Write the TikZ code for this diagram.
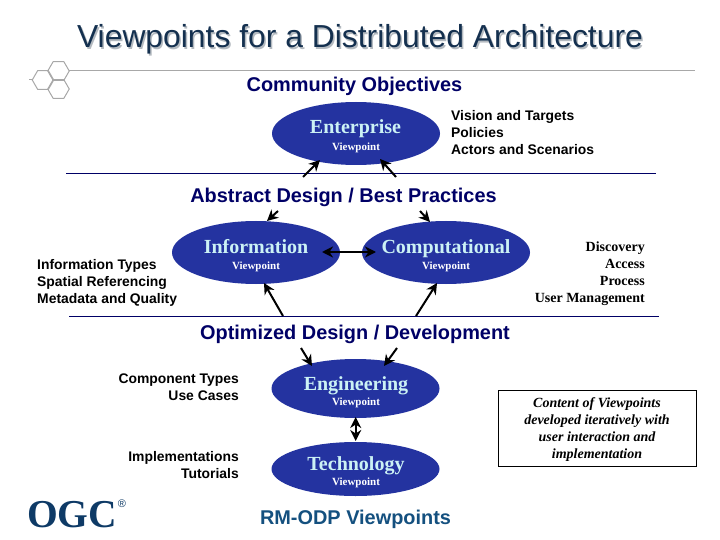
\documentclass[tikz,border=0pt]{standalone}
\usepackage{fontspec}
\setmainfont{Liberation Serif}
\newfontfamily\sansf{Liberation Sans}
\usetikzlibrary{arrows.meta,shapes.geometric,calc}
\definecolor{titleblue}{HTML}{14304F}
\definecolor{shadowgray}{HTML}{B4BAC0}
\definecolor{headnavy}{HTML}{000066}
\definecolor{ellblue}{HTML}{2433A0}
\definecolor{lightcyan}{HTML}{CCF2F5}
\definecolor{rulegray}{HTML}{A8A8A8}
\definecolor{ogcblue}{HTML}{0E3A66}
\definecolor{rmblue}{HTML}{14507F}
\tikzset{
  x=1pt,y=-1pt,
  tip/.tip={Stealth[length=11pt,width=11pt,inset=3.5pt]},
  vp/.style={ellipse,fill=ellblue,draw=none,minimum width=168pt,minimum height=63pt,inner sep=0pt},
  vname/.style={anchor=base,text=lightcyan,font=\bfseries\fontsize{20}{22}\selectfont,inner sep=0pt},
  vsub/.style={anchor=base,text=white,font=\bfseries\fontsize{11}{12}\selectfont,inner sep=0pt},
  head/.style={text=headnavy,font=\sansf\bfseries\fontsize{19.9}{22}\selectfont,inner sep=0pt},
  lsans/.style={text=black,font=\sansf\bfseries\fontsize{13.9}{17}\selectfont,inner sep=0pt},
  lserif/.style={text=black,font=\bfseries\fontsize{14}{17}\selectfont,inner sep=0pt},
  conn/.style={-tip,line width=2pt,black},
  divider/.style={line width=1pt,headnavy},
  hex/.style={regular polygon,regular polygon sides=6,minimum size=21.5pt,inner sep=0pt,draw=rulegray,line width=1pt,fill=none},
}
\begin{document}
\begin{tikzpicture}
\useasboundingbox (0,0) rectangle (720,540);
\fill[white] (0,0) rectangle (720,540);
% title
\node[text=shadowgray,font=\sansf\fontsize{31.85}{34}\selectfont,inner sep=0pt] (titleshadow) at (361.5,41) {Viewpoints for a Distributed Architecture};
\node[text=titleblue,font=\sansf\fontsize{31.85}{34}\selectfont,inner sep=0pt] (title) at (360,39.5) {Viewpoints for a Distributed Architecture};
% top rule and hexagons
\coordinate (ruleL) at (69,70.7);
\coordinate (ruleR) at (695,70.7);
\draw[rulegray,line width=1pt] (ruleL) -- (ruleR);
\node[hex] (hexa) at (58.5,71) {};
\node[hex] (hexb) at (43,80) {};
\node[hex] (hexc) at (58.5,89) {};
\coordinate (hexstub) at (29,80);
\draw[rulegray,line width=1pt] (hexb.west) -- (hexstub);
% headings
\node[head] (h1) at (354.5,86) {Community Objectives};
\node[head] (h2) at (343.5,197) {Abstract Design / Best Practices};
\node[head] (h3) at (355,334) {Optimized Design / Development};
\node[text=rmblue,font=\sansf\bfseries\fontsize{19.9}{22}\selectfont,inner sep=0pt] (h4) at (355.5,519.5) {RM-ODP Viewpoints};
% dividers
\coordinate (d1L) at (66,173.5); \coordinate (d1R) at (656,173.5);
\coordinate (d2L) at (69,316); \coordinate (d2R) at (659,316);
\draw[divider] (d1L) -- (d1R);
\draw[divider] (d2L) -- (d2R);
% ellipses
\node[vp] (ent) at (356,133.5) {};
\node[vp] (inf) at (256,252.5) {};
\node[vp] (com) at (446,252.5) {};
\node[vp,minimum height=59pt] (eng) at (355.5,388.5) {};
\node[vp,minimum height=54pt] (tec) at (355.5,469) {};
% names
\node[vname] (entn) at (355.5,134) {Enterprise};
\node[vsub]  (ents) at (356,150.5) {Viewpoint};
\node[vname] (infn) at (256,254) {Information};
\node[vsub]  (infs) at (256,269.5) {Viewpoint};
\node[vname] (comn) at (446,254) {Computational};
\node[vsub]  (coms) at (446,269.5) {Viewpoint};
\node[vname] (engn) at (356,390) {Engineering};
\node[vsub]  (engs) at (356,405) {Viewpoint};
\node[vname] (tecn) at (356,470) {Technology};
\node[vsub]  (tecs) at (356,485) {Viewpoint};
% side text
\node[lsans,align=left,anchor=west] (t1) at (451,132.5) {Vision and Targets\\Policies\\Actors and Scenarios};
\node[lsans,align=left,anchor=west] (t2) at (37,283) {Information Types\\Spatial Referencing\\Metadata and Quality};
\node[lserif,align=right,anchor=east] (t3) at (645,274) {Discovery\\Access\\Process\\User Management};
\node[lsans,align=right,anchor=east] (t4) at (239,387) {Component Types\\Use Cases};
\node[lsans,align=right,anchor=east] (t5) at (239,465) {Implementations\\Tutorials};
% note box
\node[draw=black,line width=0.8pt,fill=white,minimum width=198pt,minimum height=76pt,inner sep=0pt] (note) at (597,428) {};
\node[align=center,inner sep=0pt,font=\bfseries\itshape\fontsize{14}{17}\selectfont] (notetext) at (597,430) {Content of Viewpoints\\developed iteratively with\\user interaction and\\implementation};
% logo
\node[text=ogcblue,font=\bfseries\fontsize{39.5}{44}\selectfont,inner sep=0pt] (ogc) at (72,515) {OGC};
\node[text=ogcblue,font=\sansf\fontsize{11}{12}\selectfont,inner sep=0pt] (reg) at (122,503.5) {\textregistered};
% arrows
\coordinate (a1) at (303,177); \coordinate (a1e) at (320,160);
\coordinate (a2) at (396,177); \coordinate (a2e) at (380,159);
\coordinate (a3) at (278,211); \coordinate (a3e) at (267,221);
\coordinate (a4) at (420,211); \coordinate (a4e) at (430,222);
\coordinate (a5) at (283,316); \coordinate (a5e) at (264,283);
\coordinate (a6) at (416,316); \coordinate (a6e) at (437,283);
\coordinate (a7) at (301,348); \coordinate (a7e) at (312,366);
\coordinate (a8) at (397,348); \coordinate (a8e) at (384,366);
\coordinate (a9a) at (322,252); \coordinate (a9b) at (376,252);
\coordinate (a10a) at (355.7,417); \coordinate (a10b) at (355.7,441);
\draw[conn] (a1) -- (a1e);
\draw[conn] (a2) -- (a2e);
\draw[conn] (a3) -- (a3e);
\draw[conn] (a4) -- (a4e);
\draw[conn] (a5) -- (a5e);
\draw[conn] (a6) -- (a6e);
\draw[conn] (a7) -- (a7e);
\draw[conn] (a8) -- (a8e);
\draw[conn,tip-tip,line width=2.4pt] (a9a) -- (a9b);
\draw[conn,tip-tip] (a10a) -- (a10b);
\end{tikzpicture}
\end{document}
